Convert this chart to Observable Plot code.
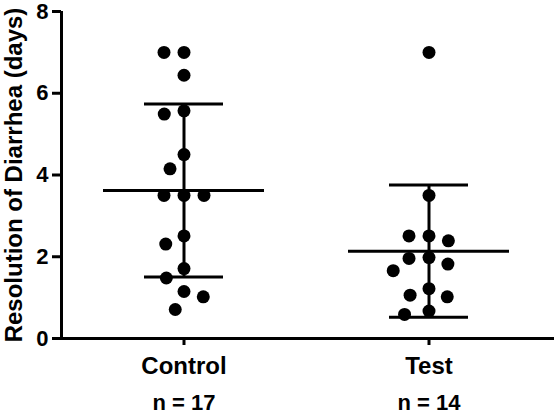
<!DOCTYPE html>
<html>
<head>
<meta charset="utf-8">
<script src="https://cdn.jsdelivr.net/npm/d3@7"></script>
<script src="https://cdn.jsdelivr.net/npm/@observablehq/plot@0.6"></script>
<style>
  html, body { margin: 0; padding: 0; background: #fff; }
  svg { display: block; }
</style>
</head>
<body>
<div id="chart"></div>
<script>
const groups = ["Control", "Test"];
const controlValues = [7.0, 7.0, 6.44, 5.57, 5.49, 4.50, 4.15, 3.5, 3.5, 3.5, 2.51, 2.31, 1.71, 1.48, 1.15, 1.02, 0.71];
const testValues = [7.0, 3.5, 2.51, 2.51, 2.39, 1.98, 1.96, 1.82, 1.66, 1.22, 1.06, 1.02, 0.67, 0.59];
const yTicks = [0, 2, 4, 6, 8];
const yLabel = "Resolution of Diarrhea (days)";

const points = [
  ...controlValues.map(v => ({group: "Control", value: v})),
  ...testValues.map(v => ({group: "Test", value: v}))
];
const byGroup = {Control: controlValues, Test: testValues};
const summary = groups.map(g => {
  const m = d3.mean(byGroup[g]), s = d3.deviation(byGroup[g]);
  return {group: g, mean: m, lo: m - s, hi: m + s, n: byGroup[g].length};
});
const counts = Object.fromEntries(summary.map(d => [d.group, d.n]));

const plot = Plot.plot({
  width: 554,
  height: 415,
  marginLeft: 61,
  marginRight: 3,
  marginTop: 11,
  marginBottom: 77,
  style: {fontFamily: "'Liberation Sans', Arial, sans-serif", fontWeight: "bold", color: "black", background: "white", overflow: "visible"},
  x: {domain: [-1, 1], axis: null},
  y: {domain: [0, 8]},
  fx: {domain: groups, padding: 0, label: null},
  marks: [
    Plot.ruleY([0], {stroke: "black", strokeWidth: 3, insetRight: -3}),
    Plot.ruleX(summary.slice(0, 1), {x: () => -1, y1: 0, y2: 8, fx: "group", stroke: "black", strokeWidth: 3}),
    Plot.axisY({ticks: yTicks, tickSize: 9, tickPadding: 4, strokeWidth: 3, fontSize: 22, fontWeight: "bold", label: null}),
    Plot.text([yLabel], {text: d => d, fx: () => groups[0], frameAnchor: "left", textAnchor: "middle", rotate: -90, dx: -47,
      fontSize: 24, fontWeight: "bold", fill: "black"}),
    Plot.axisFx({anchor: "bottom", tickSize: 7, tickPadding: 11, strokeWidth: 3, fontSize: 24, fontWeight: "bold", label: null}),
    Plot.axisFx({anchor: "bottom", tickSize: 0, tickPadding: 56, fontSize: 22, fontWeight: "bold", label: null,
      tickFormat: g => `n = ${counts[g]}`}),
    Plot.ruleX(summary, {fx: "group", x: () => 0, y1: "lo", y2: "hi", stroke: "black", strokeWidth: 3}),
    Plot.tickY(summary, {fx: "group", y: "mean", stroke: "black", strokeWidth: 3, insetLeft: 42, insetRight: 42}),
    Plot.tickY(summary, {fx: "group", y: "hi", stroke: "black", strokeWidth: 3, insetLeft: 83, insetRight: 83}),
    Plot.tickY(summary, {fx: "group", y: "lo", stroke: "black", strokeWidth: 3, insetLeft: 83, insetRight: 83}),
    Plot.dot(points, Plot.dodgeX({anchor: "middle", padding: 7, y: "value", fx: "group", r: 6.5, fill: "black"}))
  ]
});
document.getElementById("chart").appendChild(plot);
</script>
</body>
</html>
